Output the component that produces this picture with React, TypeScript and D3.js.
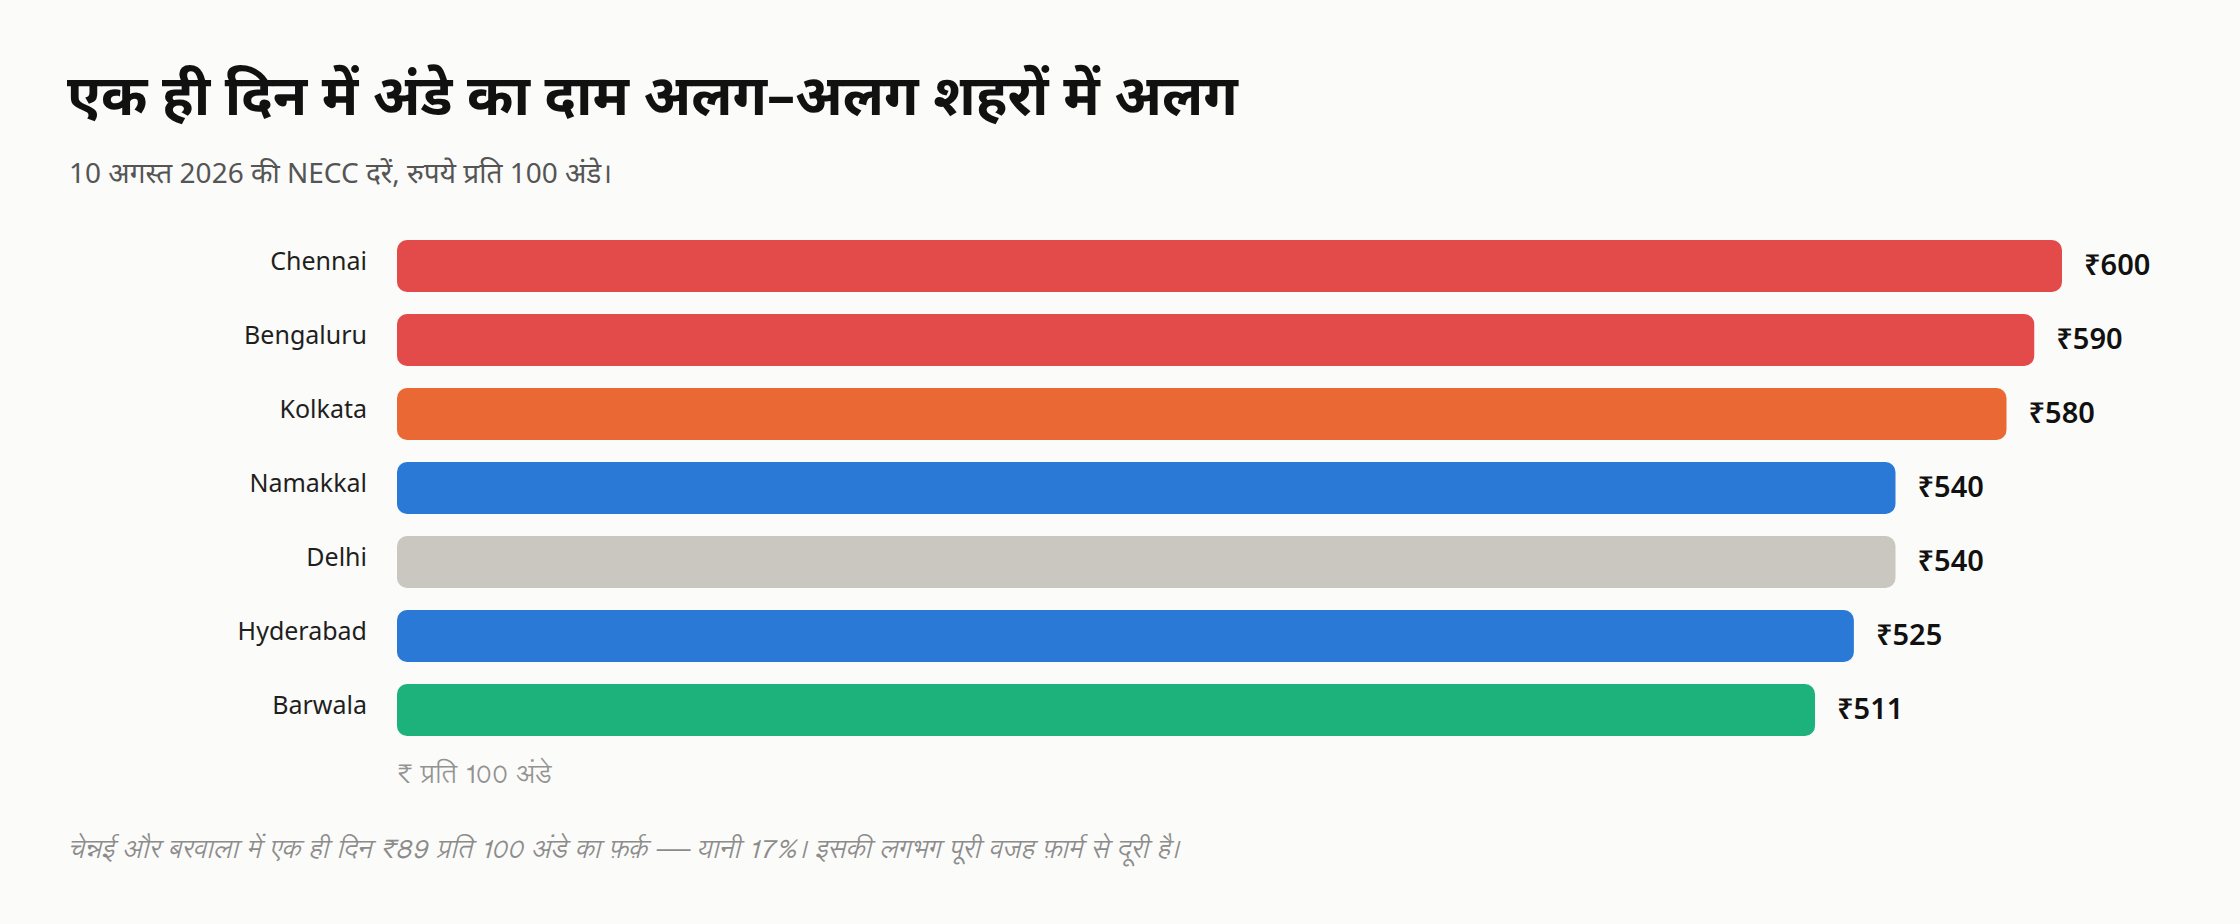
import React from 'react';
import * as d3 from 'd3';

// NECC egg rates, 10 Aug 2026 (₹ per 100 eggs)
const cities = ['Chennai', 'Bengaluru', 'Kolkata', 'Namakkal', 'Delhi', 'Hyderabad', 'Barwala'];
const prices = [600, 590, 580, 540, 540, 525, 511];
const barColors = ['#E34B4B', '#E34B4B', '#EA6834', '#2A79D6', '#CAC7C1', '#2A79D6', '#1DB17C'];

const title = 'एक ही दिन में अंडे का दाम अलग–अलग शहरों में अलग';
const subtitle = '10 अगस्त 2026 की NECC दरें, रुपये प्रति 100 अंडे।';
const axisNote = '₹ प्रति 100 अंडे';
const footnote = 'चेन्नई और बरवाला में एक ही दिन ₹89 प्रति 100 अंडे का फ़र्क़ — यानी 17%। इसकी लगभग पूरी वजह फ़ार्म से दूरी है।';

const W = 2240;
const H = 924;
const FONT = "'Noto Sans', sans-serif";
const NOTE_FONT = "'Lohit Devanagari', 'Noto Sans', sans-serif";

const styles: Record<string, React.CSSProperties> = {
  svg: { position: 'absolute', left: 0, top: 0, display: 'block' },
};

export default function App(): React.ReactElement {
  const rows = cities.map((city, i) => ({ city, value: prices[i], color: barColors[i] }));

  const x = d3.scaleLinear().domain([0, 600]).range([397, 2062]);
  const y = d3.scaleBand<string>()
    .domain(cities)
    .range([240, 736])
    .paddingInner(0.297)
    .paddingOuter(0);

  const bw = y.bandwidth();

  return (
    <svg width={W} height={H} style={styles.svg} fontFamily={FONT}>
      <rect width={W} height={H} fill="#FBFBF9" />

      {/* Header */}
      <text x={67} y={115} fontSize={56} fontWeight={700} fill="#111">{title}</text>
      <text x={69} y={183} fontSize={28} fill="#555">{subtitle}</text>

      {/* Bars */}
      {rows.map((d) => {
        const cy = (y(d.city) ?? 0) + bw / 2;
        return (
          <g key={d.city}>
            <text x={367} y={cy + 4} textAnchor="end" fontSize={25} fill="#1f1f1f">{d.city}</text>
            <rect
              x={x(0)}
              y={y(d.city)}
              width={x(d.value) - x(0)}
              height={bw}
              rx={10}
              ry={10}
              fill={d.color}
            />
            <text x={x(d.value) + 22} y={cy + 9} fontSize={29} fontWeight={600} fill="#111">
              {`₹${d.value}`}
            </text>
          </g>
        );
      })}

      {/* Axis unit note */}
      <text x={x(0)} y={783} fontSize={26} fontFamily={NOTE_FONT} fill="#939393">{axisNote}</text>

      {/* Footnote */}
      <text x={68} y={858} fontSize={26} fontFamily={NOTE_FONT} fontStyle="italic" fill="#8c8c8c">
        {footnote}
      </text>
    </svg>
  );
}
